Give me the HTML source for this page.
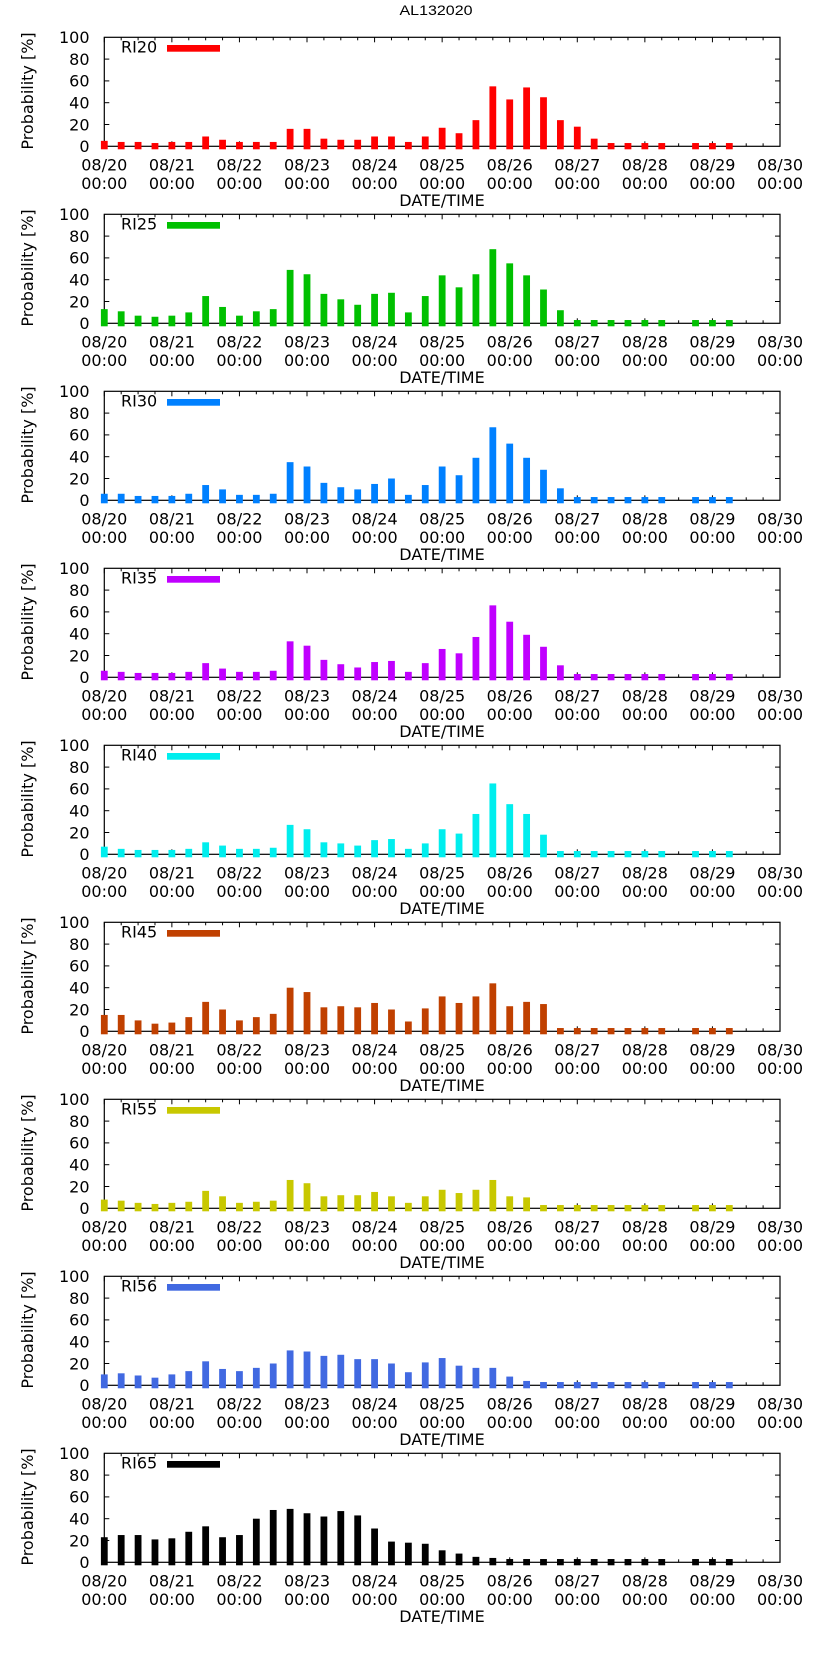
<!DOCTYPE html>
<html><head><meta charset="utf-8"><style>
html,body{margin:0;padding:0;background:#fff;}
svg{display:block;}
</style></head><body>
<svg id="chart" width="822" height="1653" viewBox="0 0 822 1653" xmlns="http://www.w3.org/2000/svg">
<text x="436" y="15" font-family="Liberation Sans, sans-serif" font-size="14" text-anchor="middle" textLength="73" lengthAdjust="spacingAndGlyphs">AL132020</text>
</svg>
<script>
const dayLabels = ["08/20","08/21","08/22","08/23","08/24","08/25","08/26","08/27","08/28","08/29","08/30"];
const yTicks = [0,20,40,60,80,100];
const seriesNames = ["RI20","RI25","RI30","RI35","RI40","RI45","RI55","RI56","RI65"];
const seriesColors = ["#ff0000","#00c000","#0080ff","#c000ff","#00eeee","#c04000","#c8c800","#4169e1","#000000"];
const ri20 = [5,4,4,3,4,4,9,6,4,4,4,16,16,7,6,6,9,9,4,9,17,12,24,55,43,54,45,24,18,7,3,3,3,3,null,3,3,3];
const ri25 = [13,11,7,6,7,10,25,15,7,11,13,49,45,27,22,17,27,28,10,25,44,33,45,68,55,44,31,12,3,3,3,3,3,3,null,3,3,3];
const ri30 = [6,6,4,4,4,6,14,10,5,5,6,35,31,16,12,10,15,20,5,14,31,23,39,67,52,39,28,11,3,3,3,3,3,3,null,3,3,3];
const ri35 = [6,5,4,4,4,5,13,8,5,5,6,33,29,16,12,9,14,15,5,13,26,22,37,66,51,39,28,11,3,3,3,3,3,3,null,3,3,3];
const ri40 = [7,5,4,4,4,5,11,8,5,5,6,27,23,11,10,8,13,14,5,10,23,19,37,65,46,37,18,3,3,3,3,3,3,3,null,3,3,3];
const ri45 = [15,15,10,7,8,13,27,20,10,13,16,40,36,22,23,22,26,20,9,21,32,26,32,44,23,27,25,3,3,3,3,3,3,3,null,3,3,3];
const ri55 = [8,7,5,4,5,6,16,11,5,6,7,26,23,11,12,12,15,11,5,11,17,14,17,26,11,10,3,3,3,3,3,3,3,3,null,3,3,3];
const ri56 = [10,11,9,7,10,13,22,15,13,16,20,32,31,27,28,24,24,20,12,21,25,18,16,16,8,4,3,3,3,3,3,3,3,3,null,3,3,3];
const ri65 = [23,25,25,21,22,28,33,23,25,40,48,49,45,42,47,43,31,19,18,17,11,8,5,4,3,3,3,3,3,3,3,3,3,3,null,3,3,3];
const allSeries = [ri20,ri25,ri30,ri35,ri40,ri45,ri55,ri56,ri65];

const NS = "http://www.w3.org/2000/svg";
const svg = document.getElementById('chart');
const X0 = 104.3, X1 = 780, TOP0 = 37.3, BOT0 = 146.3, PERIOD = 177;
function xScale(i){ return X0 + (X1 - X0) * i / 40; }
function yScale(v, off){ return BOT0 + off - (BOT0 - TOP0) * v / 100; }
function mk(tag, attrs, parent){
  const e = document.createElementNS(NS, tag);
  for (const k in attrs) e.setAttribute(k, attrs[k]);
  parent.appendChild(e);
  return e;
}
const FONT = "DejaVu Sans, sans-serif";

seriesNames.forEach((name, p) => {
  const off = p * PERIOD;
  const g = mk('g', {}, svg);
  
  
  const yl = mk('text', {x: 0, y: 0, transform: `translate(33,${91+off}) rotate(-90)`, 'font-family': FONT, 'font-size': 16, 'text-anchor': 'middle', fill: '#000'}, g);
  yl.textContent = 'Probability [%]';
  
  
  // frame first (bars drawn on top)
  const fr = mk('rect', {x: X0, y: TOP0 + off, width: X1 - X0, height: BOT0 - TOP0, fill: 'none', stroke: '#000', 'stroke-width': 1.2}, g);
  
  
  yTicks.forEach(t => {
    const y = yScale(t, off);
    const tl = mk('text', {x: 89.5, y: y + 5.8, 'font-family': FONT, 'font-size': 16, 'text-anchor': 'end'}, g);
    tl.textContent = t;
    
    
    if (t > 0 && t < 100) {
      mk('line', {x1: X0, x2: X0 + 5, y1: y, y2: y, stroke: '#000', 'stroke-width': 1}, g);
      mk('line', {x1: X1, x2: X1 - 5, y1: y, y2: y, stroke: '#000', 'stroke-width': 1}, g);
    }
  });
  for (let i = 0; i <= 40; i++) {
    const x = xScale(i);
    const len = (i % 4 === 0) ? 5 : 3;
    mk('line', {x1: x, x2: x, y1: TOP0 + off, y2: TOP0 + off + len, stroke: '#000', 'stroke-width': 1}, g);
    mk('line', {x1: x, x2: x, y1: BOT0 + off, y2: BOT0 + off - len, stroke: '#000', 'stroke-width': 1}, g);
  }
  dayLabels.forEach((d, k) => {
    const x = xScale(k * 4);
    const t1 = mk('text', {x: x, y: 170.7 + off, 'font-family': FONT, 'font-size': 16, 'text-anchor': 'middle'}, g);
    t1.textContent = d;
    
    
    const t2 = mk('text', {x: x, y: 189 + off, 'font-family': FONT, 'font-size': 16, 'text-anchor': 'middle'}, g);
    t2.textContent = '00:00';
    
    
  });
  const xt = mk('text', {x: 442, y: 206 + off, 'font-family': FONT, 'font-size': 16, 'text-anchor': 'middle'}, g);
  xt.textContent = 'DATE/TIME';
  
  
  const vals = allSeries[p];
  vals.forEach((v, i) => {
    if (v === null) return;
    const x = xScale(i);
    const top = yScale(v, off);
    const r = mk('rect', {x: x - 3.4, y: top, width: 6.8, height: (BOT0 + off + 3) - top, fill: seriesColors[p]}, g);
    
    
  });
  const lt = mk('text', {x: 121, y: 52.7 + off, 'font-family': FONT, 'font-size': 16}, g);
  lt.textContent = name;
  
  
  const lb = mk('rect', {x: 167, y: 45 + off, width: 53, height: 6.7, fill: seriesColors[p]}, g);
  
  
});
</script>
</body></html>
